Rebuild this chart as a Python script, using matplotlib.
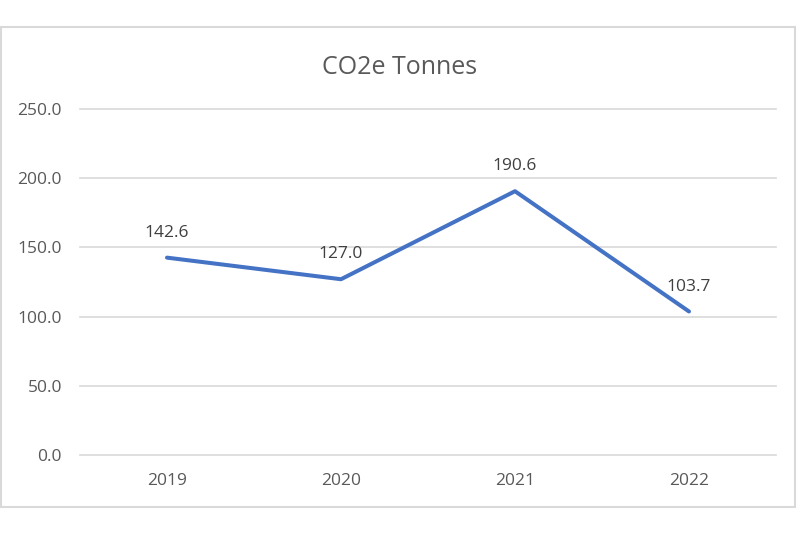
import matplotlib
matplotlib.use("Agg")
import matplotlib.pyplot as plt
from matplotlib.patches import Rectangle

years = ["2019", "2020", "2021", "2022"]
values = [142.6, 127.0, 190.6, 103.7]
yticks = [0, 50, 100, 150, 200, 250]

plt.rcParams['font.family'] = ['Open Sans', 'DejaVu Sans']
txt = '#595959'

fig = plt.figure(figsize=(8, 5.33), dpi=100)
fig.patches.append(Rectangle((1/800, 1-507/533), 794/800, 480/533, transform=fig.transFigure,
                             fill=False, edgecolor='#d9d9d9', linewidth=1.5))
ax = fig.add_axes([80/800, 1-455/533, 696/800, 346/533])
x = list(range(len(years)))
ax.plot(x, values, color='#4472C4', linewidth=2.9, solid_capstyle='round', solid_joinstyle='round', zorder=3)
for xi, v in zip(x, values):
    ax.annotate(f"{v:.1f}", (xi, v), xytext=(0, 15), textcoords='offset points',
                ha='center', va='baseline', fontsize=12.5, color='#404040')
ax.set_xlim(-0.5, 3.5)
ax.set_ylim(0, 250)
ax.set_yticks(yticks)
ax.set_yticklabels([f"{t:.1f}" for t in yticks])
ax.set_xticks(x)
ax.set_xticklabels(years)
ax.grid(axis='y', color='#d9d9d9', linewidth=1.2)
for gl in ax.get_ygridlines():
    gl.set_clip_on(False)
ax.set_axisbelow(True)
for s in ax.spines.values():
    s.set_visible(False)
ax.tick_params(axis='both', length=0, labelsize=12.5, colors=txt)
ax.tick_params(axis='x', pad=13)
ax.tick_params(axis='y', pad=13)
fig.text(400/800, 1-67/533, "CO2e Tonnes", ha='center', va='center', fontsize=18, color=txt)
fig.savefig("out.png", dpi=100)
